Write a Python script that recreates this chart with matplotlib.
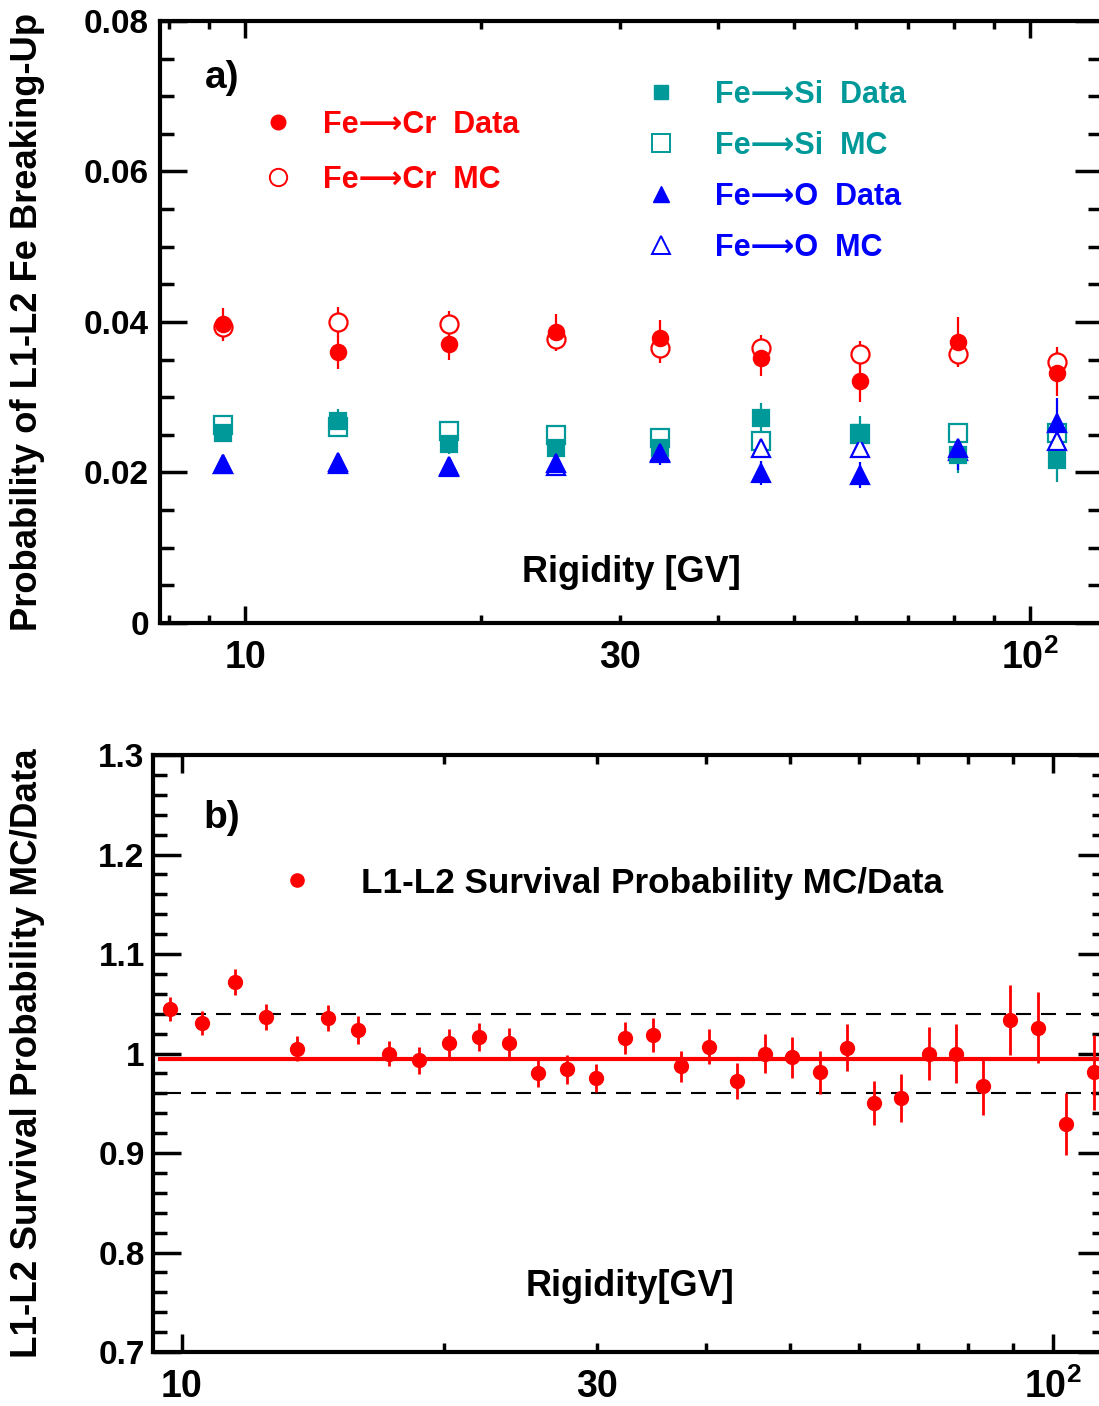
import matplotlib
matplotlib.use('Agg')
import matplotlib.pyplot as plt
from matplotlib.lines import Line2D
from matplotlib.ticker import FixedLocator, FuncFormatter, MultipleLocator

plt.rcParams['font.family'] = ['Liberation Sans', 'DejaVu Sans']
plt.rcParams['font.weight'] = 'bold'
plt.rcParams['axes.labelweight'] = 'bold'
plt.rcParams['mathtext.fontset'] = 'custom'
plt.rcParams['mathtext.rm'] = 'Liberation Sans:bold'
plt.rcParams['mathtext.bf'] = 'Liberation Sans:bold'
plt.rcParams['mathtext.it'] = 'Liberation Sans:bold'

red, teal, blue = '#ff0000', '#009999', '#0000ff'
arrow = '\u27f6'

# panel a) : fragmentation probabilities
rig = [9.38, 13.15, 18.19, 24.9, 33.79, 45.43, 60.69, 80.89, 108.3]
cr_data = [0.0397, 0.0360, 0.0371, 0.0387, 0.0379, 0.0352, 0.0321, 0.0374, 0.0332]
cr_data_err = [0.0022, 0.0022, 0.0021, 0.0023, 0.0024, 0.0024, 0.0027, 0.0033, 0.0030]
cr_mc = [0.0393, 0.0400, 0.0397, 0.0377, 0.0365, 0.0366, 0.0357, 0.0357, 0.0347]
cr_mc_err = [0.0015, 0.0020, 0.0017, 0.0015, 0.0020, 0.0017, 0.0018, 0.0017, 0.0020]
si_data = [0.0253, 0.0268, 0.0238, 0.0233, 0.0233, 0.0272, 0.0253, 0.0223, 0.0216]
si_data_err = [0.0013, 0.0017, 0.0013, 0.0013, 0.0015, 0.0020, 0.0022, 0.0024, 0.0028]
si_mc = [0.0263, 0.0260, 0.0255, 0.0250, 0.0246, 0.0242, 0.0251, 0.0252, 0.0252]
si_mc_err = [0.0010, 0.0010, 0.0010, 0.0010, 0.0011, 0.0011, 0.0012, 0.0012, 0.0013]
o_data = [0.0211, 0.0211, 0.0208, 0.0213, 0.0226, 0.0199, 0.0197, 0.0233, 0.0266]
o_data_err = [0.0008, 0.0009, 0.0009, 0.0010, 0.0016, 0.0016, 0.0017, 0.0030, 0.0033]
o_mc = [0.0211, 0.0214, 0.0207, 0.0208, 0.0227, 0.0233, 0.0233, 0.0228, 0.0242]
o_mc_err = [0.0008, 0.0008, 0.0008, 0.0008, 0.0009, 0.0010, 0.0011, 0.0012, 0.0013]

# panel b) : survival probability MC/Data
ratio_x = [9.70, 10.56, 11.52, 12.51, 13.57, 14.72, 15.96, 17.30, 18.75, 20.29, 21.93,
           23.74, 25.68, 27.72, 29.93, 32.27, 34.75, 37.45, 40.32, 43.38, 46.71, 50.22,
           54.03, 58.07, 62.37, 67.05, 72.14, 77.47, 83.21, 89.42, 96.21, 103.6, 111.6]
ratio = [1.045, 1.031, 1.072, 1.037, 1.005, 1.036, 1.024, 1.000, 0.993, 1.011, 1.017,
         1.011, 0.980, 0.984, 0.975, 1.016, 1.019, 0.987, 1.007, 0.972, 1.000, 0.996,
         0.981, 1.006, 0.950, 0.955, 1.000, 1.000, 0.967, 1.034, 1.026, 0.929, 0.981]
ratio_err = [0.012, 0.012, 0.013, 0.013, 0.013, 0.013, 0.014, 0.013, 0.014, 0.014, 0.014,
             0.015, 0.014, 0.015, 0.014, 0.016, 0.017, 0.016, 0.018, 0.018, 0.020, 0.021,
             0.022, 0.024, 0.022, 0.024, 0.027, 0.030, 0.029, 0.035, 0.036, 0.031, 0.038]
ratio_fit = 0.994
ratio_band = [0.96, 1.04]


def style(ax, xlim, xlen, ylen, ypad):
    ax.set_xscale('log')
    ax.set_xlim(xlim)
    ax.xaxis.set_major_locator(FixedLocator([10, 100]))
    ax.xaxis.set_major_formatter(FuncFormatter(lambda v, p: {10: '10', 100: '$10^{2}$'}.get(int(round(v)), '')))
    ax.xaxis.set_minor_locator(FixedLocator([8, 9, 20, 30, 40, 50, 60, 70, 80, 90]))
    ax.xaxis.set_minor_formatter(FuncFormatter(lambda v, p: '30' if int(round(v)) == 30 else ''))
    ax.yaxis.set_major_formatter(FuncFormatter(lambda v, p: '%g' % round(v, 4)))
    ax.tick_params(which='both', direction='in', top=True, right=True, width=2.5)
    ax.tick_params(axis='x', which='major', length=xlen, labelsize=27, pad=12)
    ax.tick_params(axis='x', which='minor', length=xlen / 2, labelsize=27, pad=12)
    ax.tick_params(axis='y', which='major', length=ylen, labelsize=24, pad=ypad)
    ax.tick_params(axis='y', which='minor', length=ylen / 2)
    for s in ax.spines.values():
        s.set_linewidth(3)


fig = plt.figure(figsize=(10.99, 14.06), dpi=100)
ax1 = fig.add_axes([0.1456, 0.5569, 0.8571, 0.4282])
ax2 = fig.add_axes([0.1392, 0.0384, 0.8672, 0.4246])

# MC first (open markers), data on top
series = [(cr_mc, cr_mc_err, 'o', red, 13, False),
          (si_mc, si_mc_err, 's', teal, 13, False),
          (o_mc, o_mc_err, '^', blue, 13, False),
          (cr_data, cr_data_err, 'o', red, 11, True),
          (si_data, si_data_err, 's', teal, 11, True),
          (o_data, o_data_err, '^', blue, 13, True)]
for y, e, m, c, ms, filled in series:
    ax1.errorbar(rig, y, yerr=e, fmt=m, color=c, ms=ms, mfc=c if filled else 'white',
                 mec=c, mew=1.6, elinewidth=1.6, capsize=0)

style(ax1, (7.79, 123.5), 12, 19.5, 8)
ax1.set_ylim(0, 0.08)
ax1.yaxis.set_major_locator(MultipleLocator(0.02))
ax1.yaxis.set_minor_locator(MultipleLocator(0.005))
ax1.set_xlabel('Rigidity [GV]', fontsize=26)
ax1.xaxis.label.set_va('center')
ax1.xaxis.set_label_coords(0.5, 0.0847)
ax1.set_ylabel('Probability of L1-L2 Fe Breaking-Up', fontsize=26.2)
ax1.yaxis.label.set_va('center')
ax1.yaxis.set_label_coords(-0.141, 0.5)
ax1.text(0.0655, 0.906, 'a)', transform=ax1.transAxes, fontsize=28, ha='center', va='center')

h1 = [Line2D([], [], ls='none', marker='o', ms=10.5, color=red),
      Line2D([], [], ls='none', marker='o', ms=12.5, mfc='none', mec=red, mew=1.4)]
leg1 = ax1.legend(h1, ['Fe' + arrow + 'Cr  Data', 'Fe' + arrow + 'Cr  MC'], loc='upper left',
                  bbox_to_anchor=(0.1093, 0.8526), frameon=False, fontsize=22, borderpad=0,
                  borderaxespad=0, handlelength=1.0, handletextpad=0.97, labelspacing=0.82,
                  labelcolor=[red, red])
ax1.add_artist(leg1)
h2 = [Line2D([], [], ls='none', marker='s', ms=10.5, color=teal),
      Line2D([], [], ls='none', marker='s', ms=13, mfc='none', mec=teal, mew=1.4),
      Line2D([], [], ls='none', marker='^', ms=11, color=blue),
      Line2D([], [], ls='none', marker='^', ms=13, mfc='none', mec=blue, mew=1.4)]
ax1.legend(h2, ['Fe' + arrow + 'Si  Data', 'Fe' + arrow + 'Si  MC',
                'Fe' + arrow + 'O  Data', 'Fe' + arrow + 'O  MC'],
           loc='upper left', bbox_to_anchor=(0.5153, 0.9025), frameon=False, fontsize=22,
           borderpad=0, borderaxespad=0, handlelength=1.0, handletextpad=1.28, labelspacing=0.69,
           labelcolor=[teal, teal, blue, blue])

# panel b
xlim2 = (9.27, 115.2)
ax2.hlines(ratio_band, 9.6, xlim2[1], colors='k', lw=1.5, linestyles=[(0, (7.2, 4.8))])
ax2.hlines(ratio_fit, 9.4, xlim2[1], colors=red, lw=3)
ax2.errorbar(ratio_x, ratio, yerr=ratio_err, fmt='o', color=red, ms=10, elinewidth=2, capsize=0)
style(ax2, xlim2, 13, 20, 6)
ax2.set_ylim(0.7, 1.3)
ax2.yaxis.set_major_locator(MultipleLocator(0.1))
ax2.yaxis.set_minor_locator(MultipleLocator(0.02))
ax2.set_xlabel('Rigidity[GV]', fontsize=26)
ax2.xaxis.label.set_va('center')
ax2.xaxis.set_label_coords(0.5005, 0.1089)
ax2.set_ylabel('L1-L2 Survival Probability MC/Data', fontsize=26.5)
ax2.yaxis.label.set_va('center')
ax2.yaxis.set_label_coords(-0.132, 0.5)
ax2.text(0.0721, 0.895, 'b)', transform=ax2.transAxes, fontsize=28, ha='center', va='center')
h3 = [Line2D([], [], ls='none', marker='o', ms=9.5, color=red)]
ax2.legend(h3, ['L1-L2 Survival Probability MC/Data'], loc='upper left',
           bbox_to_anchor=(0.1332, 0.8132), frameon=False, fontsize=25.3, borderpad=0,
           borderaxespad=0, handlelength=1.0, handletextpad=1.31, labelcolor='k')

plt.savefig('out.png', dpi=100)
